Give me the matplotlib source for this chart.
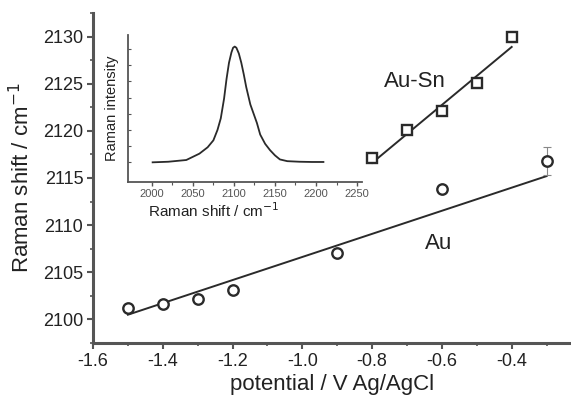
import matplotlib
matplotlib.use("Agg")
import matplotlib.pyplot as plt
import numpy as np

plt.rcParams['font.family'] = ['Liberation Sans', 'DejaVu Sans']

# Au data
au_x = [-1.5, -1.4, -1.3, -1.2, -0.9, -0.6, -0.3]
au_y = [2101.2, 2101.6, 2102.2, 2103.1, 2107.0, 2113.8, 2116.8]
au_err = [0, 0, 0, 0, 0, 0, 1.5]
au_fit_x = [-1.5, -0.3]
au_fit_y = [2100.5, 2115.2]

# Au-Sn data
ausn_x = [-0.8, -0.7, -0.6, -0.5, -0.4]
ausn_y = [2117.1, 2120.1, 2122.1, 2125.1, 2130.0]
ausn_err = [0, 0, 0, 0, 0.6]
ausn_fit_x = [-0.8, -0.4]
ausn_fit_y = [2116.6, 2128.9]

# inset spectrum
spec_x = [2001, 2020, 2042, 2058, 2068, 2075, 2080, 2084, 2088, 2091, 2094, 2097,
          2099, 2101, 2103, 2106, 2109, 2112, 2115, 2120, 2125, 2128, 2132, 2138, 2144,
          2150, 2156, 2165, 2180, 2195, 2209]
spec_y = [0.0, 0.005, 0.02, 0.075, 0.13, 0.19, 0.28, 0.38, 0.55, 0.72, 0.86, 0.95,
          0.99, 1.0, 0.99, 0.94, 0.86, 0.76, 0.65, 0.50, 0.40, 0.34, 0.24, 0.16, 0.105,
          0.06, 0.025, 0.01, 0.005, 0.003, 0.003]

fig = plt.figure(figsize=(5.71, 3.99), dpi=100)
ax = fig.add_axes([93/571, 1-343/399, 1-93/571, (343-13)/399])

col = '#2a2a2a'
spine_col = '#555555'
txt_col = '#222222'

ax.plot(au_fit_x, au_fit_y, '-', color=col, lw=1.4, zorder=2)
ax.plot(ausn_fit_x, ausn_fit_y, '-', color=col, lw=1.4, zorder=2)

# error bars only where an error exists
ex = [x for x, e in zip(au_x + ausn_x, au_err + ausn_err) if e > 0]
ey = [y for y, e in zip(au_y + ausn_y, au_err + ausn_err) if e > 0]
ee = [e for e in au_err + ausn_err if e > 0]
ax.errorbar(ex, ey, yerr=ee, fmt='none', ecolor='#888888', elinewidth=0.8,
            capsize=3, capthick=0.8, zorder=2)

ax.plot(au_x, au_y, 'o', ms=7.5, mfc='white', mec=col, mew=1.7, zorder=3)
ax.plot(ausn_x, ausn_y, 's', ms=7, mfc='white', mec=col, mew=1.7, zorder=3)

ax.set_xlim(-1.6, -0.23)
ax.set_ylim(2097.5, 2132.5)
ax.set_xticks([-1.6, -1.4, -1.2, -1.0, -0.8, -0.6, -0.4])
ax.set_xticklabels(['-1.6', '-1.4', '-1.2', '-1.0', '-0.8', '-0.6', '-0.4'])
ax.set_xticks(np.arange(-1.5, -0.25, 0.2), minor=True)
ax.set_yticks([2100, 2105, 2110, 2115, 2120, 2125, 2130])
ax.set_yticks(np.arange(2097.5, 2133, 5), minor=True)
for s in ['top', 'right']:
    ax.spines[s].set_visible(False)
for s in ['left', 'bottom']:
    ax.spines[s].set_linewidth(2.2)
    ax.spines[s].set_color(spine_col)
ax.tick_params(which='major', direction='out', length=4, width=1.5, color=spine_col,
               labelsize=13, labelcolor=txt_col, pad=3)
ax.tick_params(which='minor', direction='out', length=2.5, width=1.2, color=spine_col)
ax.set_xlabel('potential / V Ag/AgCl', fontsize=16, color=txt_col, labelpad=3)
ax.set_ylabel('Raman shift / cm$^{-1}$', fontsize=16, color=txt_col, labelpad=6)

ax.text(-0.678, 2125.2, 'Au-Sn', fontsize=16, ha='center', va='center', color=txt_col)
ax.text(-0.609, 2108.0, 'Au', fontsize=16, ha='center', va='center', color=txt_col)

# inset
ins = fig.add_axes([128/571, 1-182/399, (362-128)/571, (182-35)/399])
ins.plot(spec_x, spec_y, '-', color=col, lw=1.3)
ins.set_xlim(1971, 2256)
ins.set_ylim(-0.17, 1.1)
ins.set_xticks([2000, 2050, 2100, 2150, 2200, 2250])
ins.set_xticks([2025, 2075, 2125, 2175, 2225], minor=True)
ins.set_yticks(np.arange(0.0, 1.1, 0.14))
ins.set_yticklabels([])
for s in ['top', 'right']:
    ins.spines[s].set_visible(False)
for s in ['left', 'bottom']:
    ins.spines[s].set_linewidth(1.3)
    ins.spines[s].set_color(spine_col)
ins.tick_params(axis='x', which='major', direction='out', length=3, width=1, color=spine_col,
                labelsize=8, labelcolor='#555555', pad=2)
ins.tick_params(axis='x', which='minor', direction='out', length=2, width=0.8, color=spine_col)
ins.tick_params(axis='y', direction='in', length=2, width=0.8, color=spine_col)
ins.set_xlabel('Raman shift / cm$^{-1}$', fontsize=11, color=txt_col)
ins.xaxis.set_label_coords(0.365, -0.13)
ins.set_ylabel('Raman intensity', fontsize=10.5, color=txt_col, labelpad=3)
ins.patch.set_alpha(0)

fig.savefig('out.png', dpi=100)
